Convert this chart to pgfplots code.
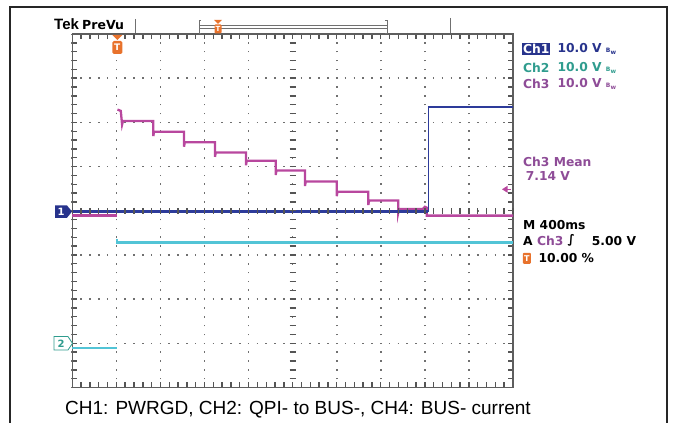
\documentclass[border=0pt]{standalone}
\usepackage{fontspec}
\setmainfont{Liberation Sans}
\newfontfamily\dv{DejaVu Sans}
\usepackage{pgfplots}
\pgfplotsset{compat=1.18}
\definecolor{chone}{HTML}{27338C}
\definecolor{chonetr}{HTML}{2D3B9A}
\definecolor{chtwo}{HTML}{52C4D6}
\definecolor{chtwotxt}{HTML}{2F9C8E}
\definecolor{chthree}{HTML}{B8479E}
\definecolor{chthreetxt}{HTML}{8E4C97}
\definecolor{tekorange}{HTML}{E8722C}
\definecolor{gridgray}{HTML}{707070}
\definecolor{tickgray}{HTML}{555555}
\definecolor{framegray}{HTML}{5E5E5E}
\newcommand{\tf}{\dv\bfseries\fontsize{12.3}{12.3}\selectfont}
\newcommand{\bw}{{\fontsize{6}{6}\selectfont B\raisebox{-2pt}{w}}}
\begin{document}
\begin{tikzpicture}[x=1pt,y=1pt]
\useasboundingbox (0,0) rectangle (673,423);
% outer frame
\draw[line width=2.2pt, black!85] (10,-10) -- (10,416) -- (667,416) -- (667,-10);

\begin{axis}[
 at={(72.3pt,35.5pt)}, anchor=south west, scale only axis,
 width=440.7pt, height=353.5pt,
 xmin=0, xmax=10, ymin=-4, ymax=4,
 xtick={0,1,...,10}, ytick={-4,-3,...,4},
 minor x tick num=4, minor y tick num=4,
 xticklabels={}, yticklabels={},
 tick align=inside, xtick pos=both, ytick pos=both,
 major tick length=5pt, minor tick length=5pt,
 major tick style={color=tickgray, line width=1.4pt},
 minor tick style={color=tickgray, line width=1.4pt},
 axis line style={color=framegray, line width=1.5pt},
 xmajorgrids, ymajorgrids,
 x grid style={color=gridgray, line width=1.6pt, dash pattern=on 1.6pt off 7.2375pt, dash phase=0.8pt},
 y grid style={color=gridgray, line width=1.6pt, dash pattern=on 1.6pt off 7.214pt, dash phase=0.8pt},
 clip=false,
]
% Ch2 (cyan)
\addplot[chtwo, line width=2.3pt] coordinates {(0,-3.10) (1.01,-3.10)};
\addplot[chtwo, line width=2.3pt] coordinates {(1.02,-0.64) (1.02,-0.72) (10,-0.72)};
% Ch3 (magenta)
\addplot[chthree, line width=2.3pt] coordinates {(0,-0.11) (1.01,-0.11)};
\addplot[chthree, line width=2.3pt] coordinates {
 (1.025,2.29) (1.10,2.26) (1.13,1.95) (1.15,2.03)
 (1.838,2.03) (1.838,1.69) (1.855,1.79)
 (2.535,1.79) (2.535,1.45) (2.552,1.55)
 (3.238,1.55) (3.238,1.22) (3.255,1.32)
 (3.941,1.32) (3.941,1.03) (3.958,1.13)
 (4.615,1.13) (4.615,0.81) (4.632,0.91)
 (5.280,0.91) (5.280,0.56) (5.297,0.66)
 (6.000,0.66) (6.000,0.33) (6.017,0.43)
 (6.717,0.43) (6.717,0.13) (6.734,0.23)
 (7.397,0.23) (7.397,-0.04) (7.414,0.04)
 (7.95,0.04) (8.0,0.09) (8.042,0.07) (8.042,-0.11) (10,-0.11)};
% Ch1 (dark blue)
\addplot[chonetr, line width=2.3pt] coordinates {(0,-0.02) (8.07,-0.02)};
\addplot[chonetr, line width=0.7pt] coordinates {(8.07,-0.02) (8.07,2.355)};
\addplot[chonetr, line width=2.3pt] coordinates {(8.07,2.355) (10,2.355)};
\end{axis}

% centre cross ticks
\foreach \i in {0,...,40} {\draw[tickgray, line width=1.4pt] (289.7,35.5+\i*8.8375) -- (295.6,35.5+\i*8.8375);}
\foreach \i in {0,...,50} {\draw[tickgray, line width=1.4pt] (72.3+\i*8.814,209.3) -- (72.3+\i*8.814,215.2);}

% channel markers
\fill[chone] (55,205.2) -- (67,205.2) -- (72,211.4) -- (67,217.6) -- (55,217.6) -- cycle;
\node[text=white, font=\dv\bfseries\fontsize{10}{10}\selectfont] at (61,211.4) {1};
\draw[chtwotxt, fill=white, line width=0.8pt] (54,73) -- (68,73) -- (72.5,79.7) -- (68,86.4) -- (54,86.4) -- cycle;
\node[text=chtwotxt, font=\dv\bfseries\fontsize{10}{10}\selectfont] at (61,79.7) {2};

% trigger position marker
\fill[tekorange] (112.3,388) -- (122.3,388) -- (117.3,383) -- cycle;
\node[fill=tekorange, rounded corners=1.5pt, inner sep=1.2pt, minimum width=10pt, minimum height=13pt, text=white, font=\dv\bfseries\fontsize{9}{9}\selectfont] at (117.3,375.5) {T};

% header
\node[anchor=base west, inner sep=0, font=\bfseries\fontsize{15}{15}\selectfont] at (54,393) {Tek};
\node[anchor=base west, inner sep=0, font=\dv\bfseries\fontsize{12.5}{12.5}\selectfont] at (82,393) {PreVu};
\draw[gridgray, line width=0.8pt] (135.7,404) -- (135.7,390);
\draw[gridgray, line width=0.8pt] (450,405) -- (450,390);
\draw[gridgray, line width=0.7pt] (201,403) -- (199,403) -- (199,389.7) -- (201,389.7);
\draw[gridgray, line width=0.7pt] (199,398) -- (387,398) -- (387,394.5) -- (199,394.5);
\draw[gridgray, line width=0.7pt] (385,403) -- (387,403) -- (387,389.7) -- (385,389.7);
\fill[tekorange] (214,403) -- (222,403) -- (218,399) -- cycle;
\node[fill=tekorange, rounded corners=1pt, inner sep=0.8pt, minimum width=7pt, minimum height=9pt, text=white, font=\dv\bfseries\fontsize{7}{7}\selectfont] at (218,394) {T};

% right readouts
\node[anchor=west, fill=chone, inner sep=0.8pt, text=white, font=\tf] at (522.2,374) {Ch1};
\node[anchor=west, inner sep=0, text=chone, font=\tf] at (557.3,374) {10.0 V \bw};
\node[anchor=west, inner sep=0, text=chtwotxt, font=\tf] at (523,355.3) {Ch2};
\node[anchor=west, inner sep=0, text=chtwotxt, font=\tf] at (557.3,355.3) {10.0 V \bw};
\node[anchor=west, inner sep=0, text=chthreetxt, font=\tf] at (523,339) {Ch3};
\node[anchor=west, inner sep=0, text=chthreetxt, font=\tf] at (557.3,339) {10.0 V \bw};
\node[anchor=west, inner sep=0, text=chthreetxt, font=\tf] at (523,261.3) {Ch3 Mean};
\node[anchor=west, inner sep=0, text=chthreetxt, font=\tf] at (525.6,247.3) {7.14 V};
\fill[chthree] (502,233.7) -- (507.5,237.2) -- (507.5,230.2) -- cycle;
\draw[chthree, line width=1pt] (506,233.7) -- (511,233.7);
\node[anchor=west, inner sep=0, text=black, font=\tf] at (523,198) {M 400ms};
\node[anchor=west, inner sep=0, text=black, font=\tf] at (523,182.3) {A \textcolor{chthreetxt}{Ch3}};
\node[anchor=west, inner sep=0, text=black, font=\dv\bfseries\fontsize{12}{12}\selectfont] at (567.5,182.3) {∫};
\node[anchor=west, inner sep=0, text=black, font=\tf] at (591.7,182.3) {5.00 V};
\node[anchor=west, fill=tekorange, rounded corners=1pt, inner sep=0.8pt, minimum width=8pt, minimum height=11pt, text=white, font=\dv\bfseries\fontsize{8}{8}\selectfont] at (522.7,164.7) {T};
\node[anchor=west, inner sep=0, text=black, font=\tf] at (538.3,164.7) {10.00 \%};

% caption
\node[anchor=base west, inner sep=0, font=\fontsize{19}{19}\selectfont] at (65,8) {CH1: PWRGD, CH2: QPI- to BUS-, CH4: BUS- current};
\end{tikzpicture}
\end{document}
